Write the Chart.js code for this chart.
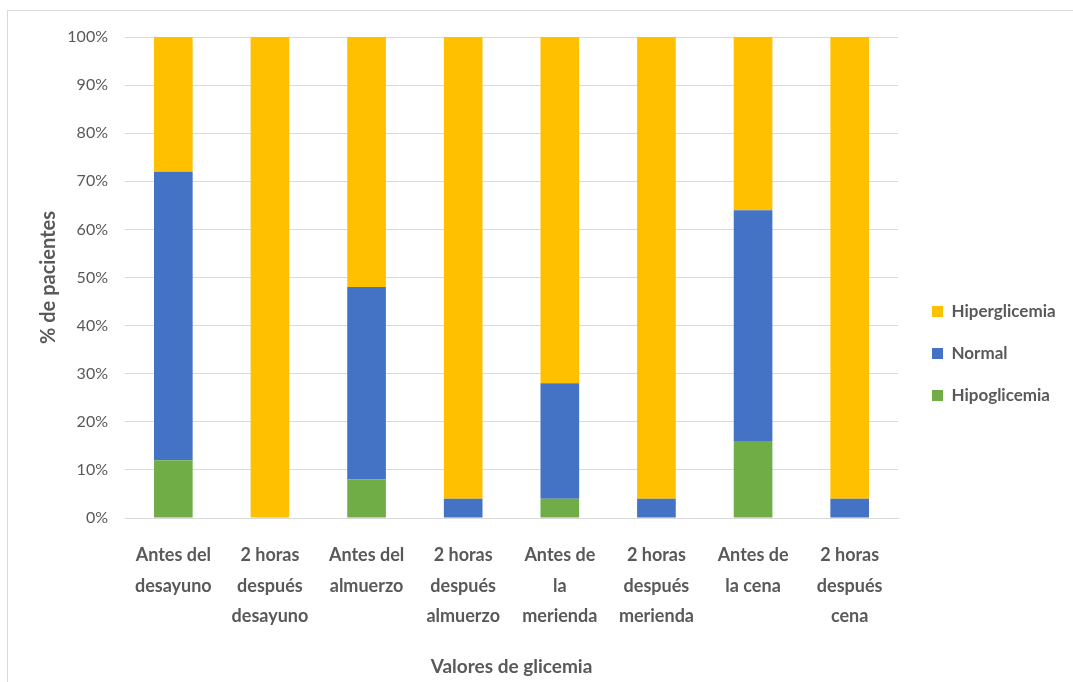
<!DOCTYPE html>
<html><head><meta charset="utf-8">
<script src="https://cdn.jsdelivr.net/npm/chart.js@4/dist/chart.umd.min.js"></script>
<style>
html,body{margin:0;padding:0;background:#fff;}
#wrap{position:relative;width:1073px;height:682px;overflow:hidden;}
#frame{position:absolute;left:7px;top:10px;width:1100px;height:700px;border:1px solid #d9d9d9;box-sizing:border-box;}
canvas{position:absolute;left:0;top:0;}
</style></head>
<body><div id="wrap"><div id="frame"></div><canvas id="c" width="1073" height="682"></canvas></div>
<script>
const categories = [
  ["Antes del","desayuno"],
  ["2 horas","después","desayuno"],
  ["Antes del","almuerzo"],
  ["2 horas","después","almuerzo"],
  ["Antes de","la","merienda"],
  ["2 horas","después","merienda"],
  ["Antes de","la cena"],
  ["2 horas","después","cena"]
];
const hipoglicemia = [12, 0, 8, 0, 4, 0, 16, 0];
const normal = [60, 0, 40, 4, 24, 4, 48, 4];
const hiperglicemia = [28, 100, 52, 96, 72, 96, 36, 96];
const yTicks = [0,10,20,30,40,50,60,70,80,90,100];

const FONT = "Lato,'Open Sans',sans-serif";
const GRAY = '#595959';

const legendFix = {
  id:'legendFix',
  beforeInit(chart){
    const lg = chart.legend;
    if(!lg) return;
    const f = lg.fit;
    lg.fit = function(){ f.call(this); this.width = 175; };
  },
  afterLayout(chart){
    const l = chart.legend;
    const w = l.right - l.left, h = l.bottom - l.top;
    l.left = 907; l.right = l.left + w;
    l.top -= 6; l.bottom = l.top + h;
  }
};

new Chart(document.getElementById('c'), {
  type:'bar',
  data:{
    labels:categories,
    datasets:[
      {label:'Hipoglicemia', data:hipoglicemia, backgroundColor:'#70AD47'},
      {label:'Normal', data:normal, backgroundColor:'#4472C4'},
      {label:'Hiperglicemia', data:hiperglicemia, backgroundColor:'#FFC000'}
    ]
  },
  options:{
    responsive:false,
    animation:false,
    layout:{padding:{top:37,left:0,right:0,bottom:0}},
    datasets:{bar:{barPercentage:0.8, categoryPercentage:0.5}},
    plugins:{
      tooltip:{enabled:false},
      legend:{
        position:'right',
        reverse:true,
        labels:{boxWidth:11, boxHeight:11, padding:25, color:GRAY,
          font:{family:FONT, size:17, weight:'bold'}}
      }
    },
    scales:{
      x:{
        stacked:true,
        grid:{display:false, drawTicks:false},
        border:{color:'#d9d9d9'},
        ticks:{color:GRAY, padding:22, maxRotation:0, autoSkip:false,
          font:{family:FONT, size:18, weight:'bold', lineHeight:1.7}},
        title:{display:true, text:'Valores de glicemia', color:GRAY,
          font:{family:FONT, size:19, weight:'bold'}, padding:{top:0,bottom:4}},
        afterFit(s){ s.height = 164; }
      },
      y:{
        stacked:true, min:0, max:100,
        afterBuildTicks(s){ s.ticks = yTicks.map(v=>({value:v})); },
        grid:{color:'#d9d9d9', drawTicks:false},
        border:{display:false},
        ticks:{color:GRAY, padding:17, callback:v=>v+'%',
          font:{family:FONT, size:16}},
        title:{display:true, text:'% de pacientes', color:GRAY,
          font:{family:FONT, size:20, weight:'bold'}, padding:{top:37,bottom:0}},
        afterFit(s){ s.width = 125; }
      }
    }
  },
  plugins:[legendFix]
});
</script></body></html>
